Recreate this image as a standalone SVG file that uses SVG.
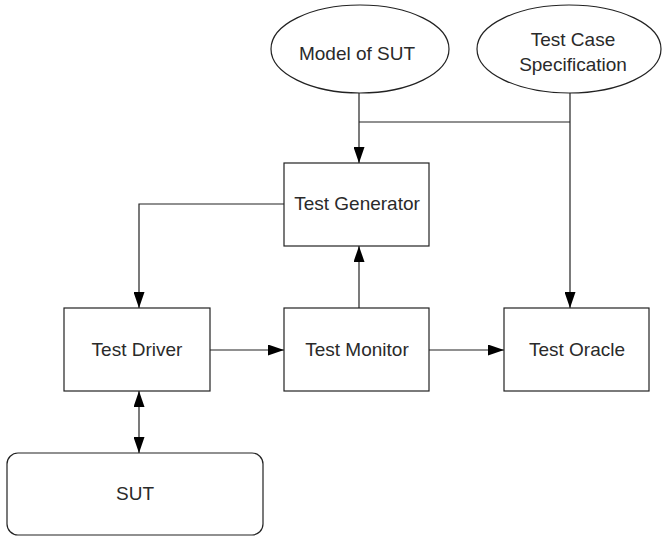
<svg xmlns="http://www.w3.org/2000/svg" width="662" height="538" viewBox="0 0 662 538">
<style>
.shape{fill:#fff;stroke:#222;stroke-width:1.2}
.lbl{font-family:"Liberation Sans",Arial,sans-serif;font-size:19px;fill:#2a2a2a;text-anchor:middle}
.conn{fill:none;stroke:#222;stroke-width:1.2}
</style>
<defs>
<marker id="ah" viewBox="0 0 16 11" refX="16" refY="5.5" markerWidth="16" markerHeight="11" markerUnits="userSpaceOnUse" orient="auto-start-reverse">
<path d="M0,0 L16,5.5 L0,11 Z" fill="#000"/>
</marker>
</defs>
<rect width="662" height="538" fill="#fff"/>
<g id="connectors">
<line class="conn" x1="359" y1="93" x2="359" y2="163" marker-end="url(#ah)"/>
<line class="conn" x1="359" y1="122" x2="570" y2="122"/>
<line class="conn" x1="570" y1="93" x2="570" y2="308" marker-end="url(#ah)"/>
<polyline class="conn" points="284,204 139,204 139,308" marker-end="url(#ah)"/>
<line class="conn" x1="359" y1="308" x2="359" y2="246" marker-end="url(#ah)"/>
<line class="conn" x1="210" y1="350" x2="284" y2="350" marker-end="url(#ah)"/>
<line class="conn" x1="429" y1="350" x2="504" y2="350" marker-end="url(#ah)"/>
<line class="conn" x1="139" y1="391" x2="139" y2="453" marker-start="url(#ah)" marker-end="url(#ah)"/>
</g>
<g id="model">
<ellipse class="shape" cx="360" cy="49" rx="89" ry="44"/>
<text class="lbl" x="357" y="60">Model of SUT</text>
</g>
<g id="spec">
<ellipse class="shape" cx="569" cy="49" rx="92" ry="44"/>
<text class="lbl" x="573" y="46">Test Case</text>
<text class="lbl" x="573" y="71">Specification</text>
</g>
<g id="generator">
<rect class="shape" x="284" y="163" width="145" height="83"/>
<text class="lbl" x="357" y="210">Test Generator</text>
</g>
<g id="driver">
<rect class="shape" x="64" y="308" width="146" height="83"/>
<text class="lbl" x="137" y="356">Test Driver</text>
</g>
<g id="monitor">
<rect class="shape" x="284" y="308" width="145" height="83"/>
<text class="lbl" x="357" y="356">Test Monitor</text>
</g>
<g id="oracle">
<rect class="shape" x="504" y="308" width="145" height="83"/>
<text class="lbl" x="577" y="356">Test Oracle</text>
</g>
<g id="sut">
<rect class="shape" x="7" y="453" width="256" height="82" rx="11"/>
<text class="lbl" x="135" y="500">SUT</text>
</g>
</svg>
